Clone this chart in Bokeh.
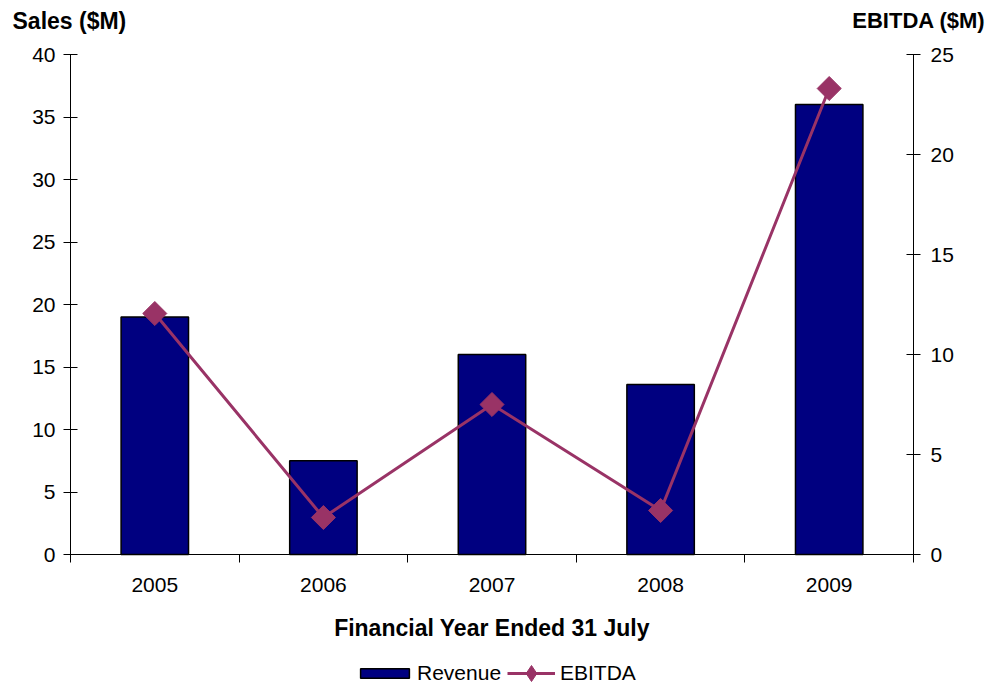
from bokeh.plotting import figure
from bokeh.models import (Range1d, LinearAxis, FixedTicker, Label, Legend, LegendItem, ColumnDataSource)
from bokeh.embed import file_html
from bokeh.resources import INLINE
import math

years = ["2005", "2006", "2007", "2008", "2009"]
revenue = [19.0, 7.5, 16.0, 13.6, 36.0]
ebitda = [12.05, 1.85, 7.5, 2.2, 23.3]
sales_ticks = [0, 5, 10, 15, 20, 25, 30, 35, 40]
ebitda_ticks = [0, 5, 10, 15, 20, 25]

FONT = "Liberation Sans"
NAVY = "#000080"
PLUM = "#993366"
W, H = 989, 685
# plot box in canvas pixels
PL, PR, PT, PB = 70, 913, 54, 554

n = len(years)
xs = list(range(n))
src = ColumnDataSource(dict(x=xs, rev=revenue, eb=ebitda))

sales_max = sales_ticks[-1]
eb_max = ebitda_ticks[-1]
xpx = (PR - PL) / n
ypx_s = (PB - PT) / sales_max
ypx_e = (PB - PT) / eb_max

x_range = Range1d(-0.5 - PL / xpx, n - 0.5 + (W - PR) / xpx)
y_range = Range1d(-(H - PB) / ypx_s, sales_max + PT / ypx_s)

p = figure(width=W, height=H, output_backend="svg", toolbar_location=None,
           x_range=x_range, y_range=y_range,
           min_border=0, min_border_left=0, min_border_right=0, min_border_top=0, min_border_bottom=0)
p.outline_line_color = None
p.grid.visible = False
p.background_fill_color = "white"
p.border_fill_color = "white"
p.extra_y_ranges = {"eb": Range1d(-(H - PB) / ypx_e, eb_max + PT / ypx_e)}

bars = p.vbar(x="x", top="rev", width=0.4, source=src, fill_color=NAVY,
              line_color="black", line_width=1.5)
line = p.line(x="x", y="eb", source=src, y_range_name="eb", line_color=PLUM, line_width=3)
marks = p.scatter(x="x", y="eb", source=src, y_range_name="eb", marker="square", angle=math.pi / 4,
                  size=17, fill_color=PLUM, line_color=PLUM)

# legend-only diamond (draws nothing on the plot)
nan_src = ColumnDataSource(dict(x=[float("nan")], y=[float("nan")]))
leg_mark = p.scatter(x="x", y="y", source=nan_src, y_range_name="eb", marker="diamond",
                     fill_color=PLUM, line_color=PLUM)

# x axis
xa = p.xaxis[0]
xa.fixed_location = 0
xa.bounds = (-0.5, n - 0.5)
xa.ticker = FixedTicker(ticks=xs, minor_ticks=[i - 0.5 for i in range(n + 1)])
xa.major_label_overrides = {i: y for i, y in enumerate(years)}
xa.major_tick_out = 0
xa.major_tick_in = 0
xa.minor_tick_out = 8
xa.minor_tick_in = 0
xa.minor_tick_line_color = "black"
xa.axis_line_color = "black"
xa.major_label_text_font = FONT
xa.major_label_text_font_size = "21px"
xa.major_label_text_color = "black"
xa.major_label_standoff = 15
xa.axis_label = "Financial Year Ended 31 July"
xa.axis_label_text_font = FONT
xa.axis_label_text_font_style = "bold"
xa.axis_label_text_font_size = "23px"
xa.axis_label_text_color = "black"
xa.axis_label_standoff = 20

# left axis
ya = p.yaxis[0]
ya.fixed_location = -0.5
ya.bounds = (0, sales_max)
ya.ticker = FixedTicker(ticks=sales_ticks)
ya.major_tick_in = 7
ya.major_tick_out = 7
ya.minor_tick_line_color = None
ya.axis_line_color = "black"
ya.major_tick_line_color = "black"
ya.major_label_text_font = FONT
ya.major_label_text_font_size = "21px"
ya.major_label_text_color = "black"
ya.major_label_standoff = 8

ra = LinearAxis(y_range_name="eb", ticker=FixedTicker(ticks=ebitda_ticks))
ra.fixed_location = n - 0.5
ra.bounds = (0, eb_max)
ra.major_tick_in = 7
ra.major_tick_out = 7
ra.minor_tick_line_color = None
ra.axis_line_color = "black"
ra.major_tick_line_color = "black"
ra.major_label_text_font = FONT
ra.major_label_text_font_size = "21px"
ra.major_label_text_color = "black"
ra.major_label_standoff = 10
p.add_layout(ra, "right")

p.add_layout(Label(x=12, y=H - 20, x_units="screen", y_units="screen", text="Sales ($M)",
                   text_font=FONT, text_font_style="bold", text_font_size="23px",
                   text_baseline="middle", text_align="left", text_color="black"))
p.add_layout(Label(x=W - 4, y=H - 20, x_units="screen", y_units="screen", text="EBITDA ($M)",
                   text_font=FONT, text_font_style="bold", text_font_size="22px",
                   text_baseline="middle", text_align="right", text_color="black"))


def style_legend(lg):
    lg.label_text_font = FONT
    lg.label_text_font_size = "21px"
    lg.label_text_color = "black"
    lg.padding = 0
    lg.margin = 0
    lg.spacing = 0
    lg.border_line_color = None
    lg.background_fill_alpha = 0


leg1 = Legend(items=[LegendItem(label="Revenue", renderers=[bars])],
              orientation="horizontal", location=(354, 0))
style_legend(leg1)
leg1.glyph_width = 61
leg1.glyph_height = 12
leg1.label_standoff = 2
p.add_layout(leg1, "center")

leg2 = Legend(items=[LegendItem(label="EBITDA", renderers=[line, leg_mark])],
              orientation="horizontal", location=(507, -8))
style_legend(leg2)
leg2.glyph_width = 48
leg2.glyph_height = 40
leg2.label_standoff = 5
p.add_layout(leg2, "center")

open("out.html", "w").write(file_html(p, INLINE))
